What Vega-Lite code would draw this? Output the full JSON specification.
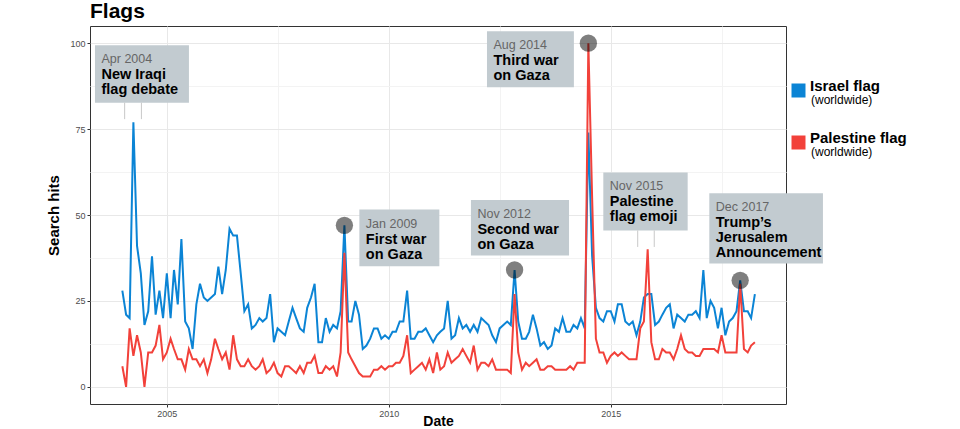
{
  "$schema": "https://vega.github.io/schema/vega-lite/v6.json",
  "width": 696,
  "height": 378,
  "autosize": "none",
  "padding": {"left": 90, "top": 26, "right": 174, "bottom": 25},
  "background": "white",
  "title": {"text": "Flags", "anchor": "start", "frame": "group", "fontSize": 21, "fontWeight": "bold", "font": "Liberation Sans", "color": "#000", "offset": 4},
  "config": {
    "font": "Liberation Sans",
    "view": {"stroke": "#333", "strokeWidth": 1},
    "axis": {
      "domain": false,
      "tickColor": "#333",
      "tickSize": 3,
      "labelColor": "#4d4d4d",
      "labelFontSize": 9,
      "labelPadding": 2,
      "titleFontSize": 15,
      "titleFontWeight": "bold",
      "titleColor": "#000",
      "gridWidth": 1
    }
  },
  "datasets": {
    "trends": [
      {"date":"2004-01","series":"Israel flag","hits":28},{"date":"2004-02","series":"Israel flag","hits":21},{"date":"2004-03","series":"Israel flag","hits":20},{"date":"2004-04","series":"Israel flag","hits":77},{"date":"2004-05","series":"Israel flag","hits":41},{"date":"2004-06","series":"Israel flag","hits":33},{"date":"2004-07","series":"Israel flag","hits":18},{"date":"2004-08","series":"Israel flag","hits":22},{"date":"2004-09","series":"Israel flag","hits":38},{"date":"2004-10","series":"Israel flag","hits":21},{"date":"2004-11","series":"Israel flag","hits":28},{"date":"2004-12","series":"Israel flag","hits":20},
      {"date":"2005-01","series":"Israel flag","hits":33},{"date":"2005-02","series":"Israel flag","hits":20},{"date":"2005-03","series":"Israel flag","hits":34},{"date":"2005-04","series":"Israel flag","hits":24},{"date":"2005-05","series":"Israel flag","hits":43},{"date":"2005-06","series":"Israel flag","hits":19},{"date":"2005-07","series":"Israel flag","hits":17},{"date":"2005-08","series":"Israel flag","hits":11},{"date":"2005-09","series":"Israel flag","hits":24},{"date":"2005-10","series":"Israel flag","hits":30},{"date":"2005-11","series":"Israel flag","hits":26},{"date":"2005-12","series":"Israel flag","hits":25},
      {"date":"2006-01","series":"Israel flag","hits":26},{"date":"2006-02","series":"Israel flag","hits":27},{"date":"2006-03","series":"Israel flag","hits":35},{"date":"2006-04","series":"Israel flag","hits":27},{"date":"2006-05","series":"Israel flag","hits":34},{"date":"2006-06","series":"Israel flag","hits":46},{"date":"2006-07","series":"Israel flag","hits":44},{"date":"2006-08","series":"Israel flag","hits":44},{"date":"2006-09","series":"Israel flag","hits":33},{"date":"2006-10","series":"Israel flag","hits":22},{"date":"2006-11","series":"Israel flag","hits":24},{"date":"2006-12","series":"Israel flag","hits":17},
      {"date":"2007-01","series":"Israel flag","hits":18},{"date":"2007-02","series":"Israel flag","hits":20},{"date":"2007-03","series":"Israel flag","hits":19},{"date":"2007-04","series":"Israel flag","hits":20},{"date":"2007-05","series":"Israel flag","hits":27},{"date":"2007-06","series":"Israel flag","hits":13},{"date":"2007-07","series":"Israel flag","hits":17},{"date":"2007-08","series":"Israel flag","hits":16},{"date":"2007-09","series":"Israel flag","hits":15},{"date":"2007-10","series":"Israel flag","hits":19},{"date":"2007-11","series":"Israel flag","hits":23},{"date":"2007-12","series":"Israel flag","hits":20},
      {"date":"2008-01","series":"Israel flag","hits":17},{"date":"2008-02","series":"Israel flag","hits":16},{"date":"2008-03","series":"Israel flag","hits":23},{"date":"2008-04","series":"Israel flag","hits":26},{"date":"2008-05","series":"Israel flag","hits":30},{"date":"2008-06","series":"Israel flag","hits":13},{"date":"2008-07","series":"Israel flag","hits":13},{"date":"2008-08","series":"Israel flag","hits":20},{"date":"2008-09","series":"Israel flag","hits":16},{"date":"2008-10","series":"Israel flag","hits":18},{"date":"2008-11","series":"Israel flag","hits":17},{"date":"2008-12","series":"Israel flag","hits":22},
      {"date":"2009-01","series":"Israel flag","hits":47},{"date":"2009-02","series":"Israel flag","hits":19},{"date":"2009-03","series":"Israel flag","hits":19},{"date":"2009-04","series":"Israel flag","hits":25},{"date":"2009-05","series":"Israel flag","hits":21},{"date":"2009-06","series":"Israel flag","hits":11},{"date":"2009-07","series":"Israel flag","hits":12},{"date":"2009-08","series":"Israel flag","hits":14},{"date":"2009-09","series":"Israel flag","hits":17},{"date":"2009-10","series":"Israel flag","hits":17},{"date":"2009-11","series":"Israel flag","hits":14},{"date":"2009-12","series":"Israel flag","hits":15},
      {"date":"2010-01","series":"Israel flag","hits":14},{"date":"2010-02","series":"Israel flag","hits":16},{"date":"2010-03","series":"Israel flag","hits":16},{"date":"2010-04","series":"Israel flag","hits":19},{"date":"2010-05","series":"Israel flag","hits":19},{"date":"2010-06","series":"Israel flag","hits":28},{"date":"2010-07","series":"Israel flag","hits":14},{"date":"2010-08","series":"Israel flag","hits":14},{"date":"2010-09","series":"Israel flag","hits":16},{"date":"2010-10","series":"Israel flag","hits":16},{"date":"2010-11","series":"Israel flag","hits":17},{"date":"2010-12","series":"Israel flag","hits":15},
      {"date":"2011-01","series":"Israel flag","hits":13},{"date":"2011-02","series":"Israel flag","hits":15},{"date":"2011-03","series":"Israel flag","hits":16},{"date":"2011-04","series":"Israel flag","hits":17},{"date":"2011-05","series":"Israel flag","hits":25},{"date":"2011-06","series":"Israel flag","hits":14},{"date":"2011-07","series":"Israel flag","hits":15},{"date":"2011-08","series":"Israel flag","hits":20},{"date":"2011-09","series":"Israel flag","hits":17},{"date":"2011-10","series":"Israel flag","hits":18},{"date":"2011-11","series":"Israel flag","hits":16},{"date":"2011-12","series":"Israel flag","hits":18},
      {"date":"2012-01","series":"Israel flag","hits":16},{"date":"2012-02","series":"Israel flag","hits":20},{"date":"2012-03","series":"Israel flag","hits":19},{"date":"2012-04","series":"Israel flag","hits":18},{"date":"2012-05","series":"Israel flag","hits":15},{"date":"2012-06","series":"Israel flag","hits":13},{"date":"2012-07","series":"Israel flag","hits":17},{"date":"2012-08","series":"Israel flag","hits":18},{"date":"2012-09","series":"Israel flag","hits":19},{"date":"2012-10","series":"Israel flag","hits":18},{"date":"2012-11","series":"Israel flag","hits":34},{"date":"2012-12","series":"Israel flag","hits":19},
      {"date":"2013-01","series":"Israel flag","hits":14},{"date":"2013-02","series":"Israel flag","hits":14},{"date":"2013-03","series":"Israel flag","hits":16},{"date":"2013-04","series":"Israel flag","hits":21},{"date":"2013-05","series":"Israel flag","hits":17},{"date":"2013-06","series":"Israel flag","hits":12},{"date":"2013-07","series":"Israel flag","hits":13},{"date":"2013-08","series":"Israel flag","hits":11},{"date":"2013-09","series":"Israel flag","hits":12},{"date":"2013-10","series":"Israel flag","hits":17},{"date":"2013-11","series":"Israel flag","hits":16},{"date":"2013-12","series":"Israel flag","hits":20},
      {"date":"2014-01","series":"Israel flag","hits":16},{"date":"2014-02","series":"Israel flag","hits":16},{"date":"2014-03","series":"Israel flag","hits":18},{"date":"2014-04","series":"Israel flag","hits":17},{"date":"2014-05","series":"Israel flag","hits":20},{"date":"2014-06","series":"Israel flag","hits":17},{"date":"2014-07","series":"Israel flag","hits":74},{"date":"2014-08","series":"Israel flag","hits":38},{"date":"2014-09","series":"Israel flag","hits":23},{"date":"2014-10","series":"Israel flag","hits":20},{"date":"2014-11","series":"Israel flag","hits":19},{"date":"2014-12","series":"Israel flag","hits":22},
      {"date":"2015-01","series":"Israel flag","hits":22},{"date":"2015-02","series":"Israel flag","hits":19},{"date":"2015-03","series":"Israel flag","hits":24},{"date":"2015-04","series":"Israel flag","hits":24},{"date":"2015-05","series":"Israel flag","hits":19},{"date":"2015-06","series":"Israel flag","hits":18},{"date":"2015-07","series":"Israel flag","hits":19},{"date":"2015-08","series":"Israel flag","hits":15},{"date":"2015-09","series":"Israel flag","hits":19},{"date":"2015-10","series":"Israel flag","hits":26},{"date":"2015-11","series":"Israel flag","hits":27},{"date":"2015-12","series":"Israel flag","hits":27},
      {"date":"2016-01","series":"Israel flag","hits":18},{"date":"2016-02","series":"Israel flag","hits":19},{"date":"2016-03","series":"Israel flag","hits":21},{"date":"2016-04","series":"Israel flag","hits":23},{"date":"2016-05","series":"Israel flag","hits":24},{"date":"2016-06","series":"Israel flag","hits":17},{"date":"2016-07","series":"Israel flag","hits":21},{"date":"2016-08","series":"Israel flag","hits":20},{"date":"2016-09","series":"Israel flag","hits":19},{"date":"2016-10","series":"Israel flag","hits":21},{"date":"2016-11","series":"Israel flag","hits":21},{"date":"2016-12","series":"Israel flag","hits":22},
      {"date":"2017-01","series":"Israel flag","hits":20},{"date":"2017-02","series":"Israel flag","hits":34},{"date":"2017-03","series":"Israel flag","hits":20},{"date":"2017-04","series":"Israel flag","hits":25},{"date":"2017-05","series":"Israel flag","hits":23},{"date":"2017-06","series":"Israel flag","hits":17},{"date":"2017-07","series":"Israel flag","hits":23},{"date":"2017-08","series":"Israel flag","hits":15},{"date":"2017-09","series":"Israel flag","hits":19},{"date":"2017-10","series":"Israel flag","hits":20},{"date":"2017-11","series":"Israel flag","hits":22},{"date":"2017-12","series":"Israel flag","hits":31},
      {"date":"2018-01","series":"Israel flag","hits":22},{"date":"2018-02","series":"Israel flag","hits":22},{"date":"2018-03","series":"Israel flag","hits":20},{"date":"2018-04","series":"Israel flag","hits":27},
      {"date":"2004-01","series":"Palestine flag","hits":6},{"date":"2004-02","series":"Palestine flag","hits":0},{"date":"2004-03","series":"Palestine flag","hits":17},{"date":"2004-04","series":"Palestine flag","hits":9},{"date":"2004-05","series":"Palestine flag","hits":15},{"date":"2004-06","series":"Palestine flag","hits":10},{"date":"2004-07","series":"Palestine flag","hits":0},{"date":"2004-08","series":"Palestine flag","hits":10},{"date":"2004-09","series":"Palestine flag","hits":10},{"date":"2004-10","series":"Palestine flag","hits":12},{"date":"2004-11","series":"Palestine flag","hits":18},{"date":"2004-12","series":"Palestine flag","hits":8},
      {"date":"2005-01","series":"Palestine flag","hits":10},{"date":"2005-02","series":"Palestine flag","hits":14},{"date":"2005-03","series":"Palestine flag","hits":11},{"date":"2005-04","series":"Palestine flag","hits":8},{"date":"2005-05","series":"Palestine flag","hits":8},{"date":"2005-06","series":"Palestine flag","hits":5},{"date":"2005-07","series":"Palestine flag","hits":11},{"date":"2005-08","series":"Palestine flag","hits":8},{"date":"2005-09","series":"Palestine flag","hits":8},{"date":"2005-10","series":"Palestine flag","hits":6},{"date":"2005-11","series":"Palestine flag","hits":8},{"date":"2005-12","series":"Palestine flag","hits":4},
      {"date":"2006-01","series":"Palestine flag","hits":8},{"date":"2006-02","series":"Palestine flag","hits":14},{"date":"2006-03","series":"Palestine flag","hits":11},{"date":"2006-04","series":"Palestine flag","hits":8},{"date":"2006-05","series":"Palestine flag","hits":10},{"date":"2006-06","series":"Palestine flag","hits":5},{"date":"2006-07","series":"Palestine flag","hits":15},{"date":"2006-08","series":"Palestine flag","hits":8},{"date":"2006-09","series":"Palestine flag","hits":6},{"date":"2006-10","series":"Palestine flag","hits":6},{"date":"2006-11","series":"Palestine flag","hits":8},{"date":"2006-12","series":"Palestine flag","hits":6},
      {"date":"2007-01","series":"Palestine flag","hits":5},{"date":"2007-02","series":"Palestine flag","hits":6},{"date":"2007-03","series":"Palestine flag","hits":8},{"date":"2007-04","series":"Palestine flag","hits":4},{"date":"2007-05","series":"Palestine flag","hits":5},{"date":"2007-06","series":"Palestine flag","hits":7},{"date":"2007-07","series":"Palestine flag","hits":4},{"date":"2007-08","series":"Palestine flag","hits":3},{"date":"2007-09","series":"Palestine flag","hits":6},{"date":"2007-10","series":"Palestine flag","hits":6},{"date":"2007-11","series":"Palestine flag","hits":5},{"date":"2007-12","series":"Palestine flag","hits":4},
      {"date":"2008-01","series":"Palestine flag","hits":6},{"date":"2008-02","series":"Palestine flag","hits":4},{"date":"2008-03","series":"Palestine flag","hits":7},{"date":"2008-04","series":"Palestine flag","hits":7},{"date":"2008-05","series":"Palestine flag","hits":9},{"date":"2008-06","series":"Palestine flag","hits":4},{"date":"2008-07","series":"Palestine flag","hits":4},{"date":"2008-08","series":"Palestine flag","hits":6},{"date":"2008-09","series":"Palestine flag","hits":5},{"date":"2008-10","series":"Palestine flag","hits":6},{"date":"2008-11","series":"Palestine flag","hits":3},{"date":"2008-12","series":"Palestine flag","hits":10},
      {"date":"2009-01","series":"Palestine flag","hits":39},{"date":"2009-02","series":"Palestine flag","hits":10},{"date":"2009-03","series":"Palestine flag","hits":8},{"date":"2009-04","series":"Palestine flag","hits":6},{"date":"2009-05","series":"Palestine flag","hits":4},{"date":"2009-06","series":"Palestine flag","hits":3},{"date":"2009-07","series":"Palestine flag","hits":3},{"date":"2009-08","series":"Palestine flag","hits":3},{"date":"2009-09","series":"Palestine flag","hits":5},{"date":"2009-10","series":"Palestine flag","hits":5},{"date":"2009-11","series":"Palestine flag","hits":6},{"date":"2009-12","series":"Palestine flag","hits":5},
      {"date":"2010-01","series":"Palestine flag","hits":6},{"date":"2010-02","series":"Palestine flag","hits":6},{"date":"2010-03","series":"Palestine flag","hits":7},{"date":"2010-04","series":"Palestine flag","hits":7},{"date":"2010-05","series":"Palestine flag","hits":9},{"date":"2010-06","series":"Palestine flag","hits":15},{"date":"2010-07","series":"Palestine flag","hits":4},{"date":"2010-08","series":"Palestine flag","hits":5},{"date":"2010-09","series":"Palestine flag","hits":6},{"date":"2010-10","series":"Palestine flag","hits":7},{"date":"2010-11","series":"Palestine flag","hits":5},{"date":"2010-12","series":"Palestine flag","hits":8},
      {"date":"2011-01","series":"Palestine flag","hits":4},{"date":"2011-02","series":"Palestine flag","hits":10},{"date":"2011-03","series":"Palestine flag","hits":5},{"date":"2011-04","series":"Palestine flag","hits":6},{"date":"2011-05","series":"Palestine flag","hits":10},{"date":"2011-06","series":"Palestine flag","hits":7},{"date":"2011-07","series":"Palestine flag","hits":8},{"date":"2011-08","series":"Palestine flag","hits":9},{"date":"2011-09","series":"Palestine flag","hits":11},{"date":"2011-10","series":"Palestine flag","hits":9},{"date":"2011-11","series":"Palestine flag","hits":7},{"date":"2011-12","series":"Palestine flag","hits":12},
      {"date":"2012-01","series":"Palestine flag","hits":5},{"date":"2012-02","series":"Palestine flag","hits":7},{"date":"2012-03","series":"Palestine flag","hits":7},{"date":"2012-04","series":"Palestine flag","hits":6},{"date":"2012-05","series":"Palestine flag","hits":8},{"date":"2012-06","series":"Palestine flag","hits":5},{"date":"2012-07","series":"Palestine flag","hits":5},{"date":"2012-08","series":"Palestine flag","hits":5},{"date":"2012-09","series":"Palestine flag","hits":5},{"date":"2012-10","series":"Palestine flag","hits":4},{"date":"2012-11","series":"Palestine flag","hits":27},{"date":"2012-12","series":"Palestine flag","hits":10},
      {"date":"2013-01","series":"Palestine flag","hits":5},{"date":"2013-02","series":"Palestine flag","hits":7},{"date":"2013-03","series":"Palestine flag","hits":6},{"date":"2013-04","series":"Palestine flag","hits":7},{"date":"2013-05","series":"Palestine flag","hits":8},{"date":"2013-06","series":"Palestine flag","hits":5},{"date":"2013-07","series":"Palestine flag","hits":5},{"date":"2013-08","series":"Palestine flag","hits":6},{"date":"2013-09","series":"Palestine flag","hits":6},{"date":"2013-10","series":"Palestine flag","hits":5},{"date":"2013-11","series":"Palestine flag","hits":5},{"date":"2013-12","series":"Palestine flag","hits":5},
      {"date":"2014-01","series":"Palestine flag","hits":5},{"date":"2014-02","series":"Palestine flag","hits":6},{"date":"2014-03","series":"Palestine flag","hits":5},{"date":"2014-04","series":"Palestine flag","hits":7},{"date":"2014-05","series":"Palestine flag","hits":7},{"date":"2014-06","series":"Palestine flag","hits":7},{"date":"2014-07","series":"Palestine flag","hits":100},{"date":"2014-08","series":"Palestine flag","hits":55},{"date":"2014-09","series":"Palestine flag","hits":14},{"date":"2014-10","series":"Palestine flag","hits":10},{"date":"2014-11","series":"Palestine flag","hits":10},{"date":"2014-12","series":"Palestine flag","hits":7},
      {"date":"2015-01","series":"Palestine flag","hits":9},{"date":"2015-02","series":"Palestine flag","hits":10},{"date":"2015-03","series":"Palestine flag","hits":9},{"date":"2015-04","series":"Palestine flag","hits":10},{"date":"2015-05","series":"Palestine flag","hits":9},{"date":"2015-06","series":"Palestine flag","hits":8},{"date":"2015-07","series":"Palestine flag","hits":8},{"date":"2015-08","series":"Palestine flag","hits":8},{"date":"2015-09","series":"Palestine flag","hits":17},{"date":"2015-10","series":"Palestine flag","hits":19},{"date":"2015-11","series":"Palestine flag","hits":40},{"date":"2015-12","series":"Palestine flag","hits":13},
      {"date":"2016-01","series":"Palestine flag","hits":8},{"date":"2016-02","series":"Palestine flag","hits":8},{"date":"2016-03","series":"Palestine flag","hits":11},{"date":"2016-04","series":"Palestine flag","hits":10},{"date":"2016-05","series":"Palestine flag","hits":10},{"date":"2016-06","series":"Palestine flag","hits":8},{"date":"2016-07","series":"Palestine flag","hits":11},{"date":"2016-08","series":"Palestine flag","hits":15},{"date":"2016-09","series":"Palestine flag","hits":11},{"date":"2016-10","series":"Palestine flag","hits":10},{"date":"2016-11","series":"Palestine flag","hits":10},{"date":"2016-12","series":"Palestine flag","hits":9},
      {"date":"2017-01","series":"Palestine flag","hits":9},{"date":"2017-02","series":"Palestine flag","hits":11},{"date":"2017-03","series":"Palestine flag","hits":11},{"date":"2017-04","series":"Palestine flag","hits":11},{"date":"2017-05","series":"Palestine flag","hits":11},{"date":"2017-06","series":"Palestine flag","hits":10},{"date":"2017-07","series":"Palestine flag","hits":15},{"date":"2017-08","series":"Palestine flag","hits":10},{"date":"2017-09","series":"Palestine flag","hits":10},{"date":"2017-10","series":"Palestine flag","hits":10},{"date":"2017-11","series":"Palestine flag","hits":10},{"date":"2017-12","series":"Palestine flag","hits":30},
      {"date":"2018-01","series":"Palestine flag","hits":11},{"date":"2018-02","series":"Palestine flag","hits":10},{"date":"2018-03","series":"Palestine flag","hits":12},{"date":"2018-04","series":"Palestine flag","hits":13}
    ],
    "peaks": [
      {"date":"2009-01","hits":47},
      {"date":"2012-11","hits":34},
      {"date":"2014-07","hits":100},
      {"date":"2017-12","hits":31}
    ],
    "notes": [
      {"event":"Apr 2004","title":"New Iraqi\nflag debate","x0":"2003-05-21","x1":"2005-07-02","top":99.4,"bottom":82.7},
      {"event":"Jan 2009","title":"First war\non Gaza","x0":"2009-05-04","x1":"2011-02-21","top":51.6,"bottom":35.1},
      {"event":"Nov 2012","title":"Second war\non Gaza","x0":"2011-11-08","x1":"2014-01-23","top":54.4,"bottom":38.2},
      {"event":"Aug 2014","title":"Third war\non Gaza","x0":"2012-03-19","x1":"2014-03-04","top":103.5,"bottom":87.2},
      {"event":"Nov 2015","title":"Palestine\nflag emoji","x0":"2014-11-01","x1":"2016-09-25","top":62.4,"bottom":45.5},
      {"event":"Dec 2017","title":"Trump’s\nJerusalem\nAnnouncement","x0":"2017-03-22","x1":"2019-10-13","top":56.3,"bottom":35.9}
    ],
    "ticks": [
      {"date":"2004-01-20","top":82.7,"bottom":77.9},
      {"date":"2004-06-06","top":82.7,"bottom":77.9},
      {"date":"2015-08-11","top":45.5,"bottom":40.7},
      {"date":"2015-12-25","top":45.5,"bottom":40.7}
    ],
    "legendnotes": [
      {"note":"Israel flag (worldwide)"},
      {"note":"Palestine flag (worldwide)"}
    ]
  },
  "layer": [
    {
      "data": {"name": "trends"},
      "mark": {"type": "line", "strokeWidth": 2},
      "encoding": {
        "x": {
          "field": "date", "type": "temporal", "title": "Date",
          "scale": {"domain": [{"year": 2003, "month": 4, "date": 10}, {"year": 2018, "month": 12, "date": 13}]},
          "axis": {
            "values": [{"year": 2005, "month": 1, "date": 1}, {"year": 2007, "month": 7, "date": 2}, {"year": 2010, "month": 1, "date": 1}, {"year": 2012, "month": 7, "date": 2}, {"year": 2015, "month": 1, "date": 1}, {"year": 2017, "month": 7, "date": 2}],
            "labelExpr": "month(datum.value) == 0 ? timeFormat(datum.value, '%Y') : ''",
            "tickOpacity": {"condition": {"test": "month(datum.value) != 0", "value": 0}, "value": 1},
            "gridColor": {"condition": {"test": "month(datum.value) != 0", "value": "#f3f3f3"}, "value": "#e8e8e8"},
            "titleFontSize": 14,
            "titleY": 24.5,
            "titleBaseline": "bottom"
          }
        },
        "y": {
          "field": "hits", "type": "quantitative", "title": "Search hits",
          "scale": {"domain": [-5, 105], "nice": false, "zero": false},
          "axis": {
            "values": [0, 12.5, 25, 37.5, 50, 62.5, 75, 87.5, 100],
            "labelExpr": "datum.value % 25 == 0 ? datum.label : ''",
            "tickOpacity": {"condition": {"test": "datum.value % 25 != 0", "value": 0}, "value": 1},
            "gridColor": {"condition": {"test": "datum.value % 25 != 0", "value": "#f3f3f3"}, "value": "#e8e8e8"},
            "titlePadding": 8
          }
        },
        "color": {
          "field": "series", "type": "nominal",
          "scale": {"domain": ["Israel flag", "Palestine flag"], "range": ["#0b84d5", "#f2413a"]},
          "legend": {
            "orient": "none", "legendX": 701, "legendY": 57, "title": null, "padding": 0,
            "symbolType": "square", "symbolSize": 196, "symbolStrokeWidth": 0,
            "labelFontSize": 15, "labelFontWeight": "bold", "labelColor": "#000", "labelBaseline": "alphabetic", "labelOffset": 4,
            "rowPadding": 32,
            "encode": {"symbols": {"update": {"fill": {"scale": "color", "field": "value"}, "strokeWidth": {"value": 0}}}}
          }
        }
      }
    },
    {
      "data": {"name": "peaks"},
      "mark": {"type": "circle", "size": 300, "color": "#000", "opacity": 0.5},
      "encoding": {
        "x": {"field": "date", "type": "temporal", "title": "Date"},
        "y": {"field": "hits", "type": "quantitative", "title": "Search hits"}
      }
    },
    {
      "data": {"name": "notes"},
      "mark": {"type": "rect", "color": "#c2cbd0", "opacity": 1},
      "encoding": {
        "x": {"field": "x0", "type": "temporal", "title": "Date"},
        "x2": {"field": "x1"},
        "y": {"field": "top", "type": "quantitative", "title": "Search hits"},
        "y2": {"field": "bottom"}
      }
    },
    {
      "data": {"name": "ticks"},
      "mark": {"type": "rule", "color": "#c8c8c8", "strokeWidth": 1},
      "encoding": {
        "x": {"field": "date", "type": "temporal", "title": "Date"},
        "y": {"field": "top", "type": "quantitative", "title": "Search hits"},
        "y2": {"field": "bottom"}
      }
    },
    {
      "data": {"name": "notes"},
      "mark": {"type": "text", "align": "left", "baseline": "alphabetic", "dx": 6.5, "dy": 18, "fontSize": 12.5, "color": "#666"},
      "encoding": {
        "x": {"field": "x0", "type": "temporal", "title": "Date"},
        "y": {"field": "top", "type": "quantitative", "title": "Search hits"},
        "text": {"field": "event", "type": "nominal"}
      }
    },
    {
      "data": {"name": "notes"},
      "mark": {"type": "text", "align": "left", "baseline": "alphabetic", "dx": 6.5, "dy": 34, "fontSize": 14.5, "fontWeight": "bold", "color": "#000", "lineBreak": "\n", "lineHeight": 15},
      "encoding": {
        "x": {"field": "x0", "type": "temporal", "title": "Date"},
        "y": {"field": "top", "type": "quantitative", "title": "Search hits"},
        "text": {"field": "title", "type": "nominal"}
      }
    },
    {
      "data": {"name": "legendnotes"},
      "mark": {"type": "point", "opacity": 0},
      "encoding": {
        "shape": {
          "field": "note", "type": "nominal",
          "legend": {
            "orient": "none", "legendX": 701, "legendY": 70, "title": null, "padding": 0,
            "symbolOpacity": 0, "symbolSize": 196,
            "labelExpr": "'(worldwide)'",
            "labelFontSize": 12, "labelFontWeight": "normal", "labelColor": "#000", "labelBaseline": "alphabetic", "labelOffset": 4,
            "rowPadding": 35
          }
        }
      }
    }
  ]
}
